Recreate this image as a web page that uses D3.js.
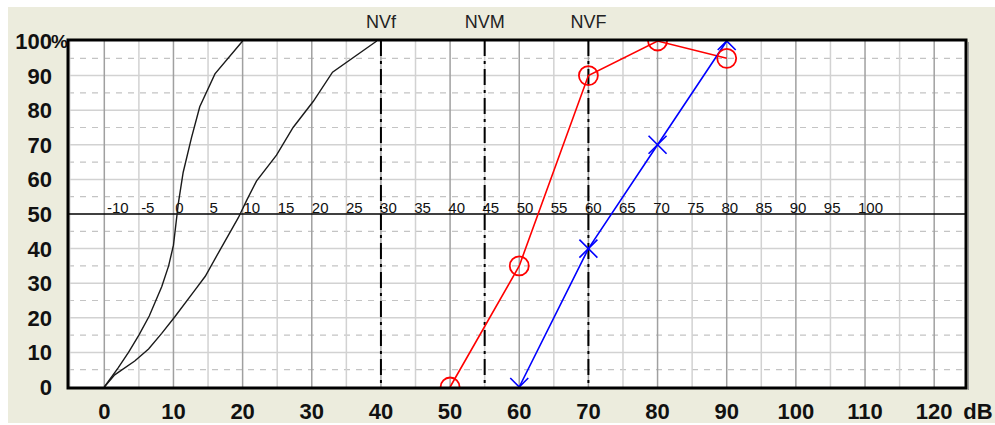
<!DOCTYPE html>
<html lang="en">
<head>
<meta charset="utf-8">
<title>Speech audiogram</title>
<script src="https://cdn.jsdelivr.net/npm/d3@7"></script>
<style>
body { margin:0; background:#fff; font-family:'Liberation Sans', Arial, sans-serif; }
svg { display:block; }
.ylab, .xlab { font-size:22px; font-weight:bold; fill:#111; }
.midlab { font-size:15px; fill:#111; }
.toplab { font-size:18px; fill:#222; }
</style>
</head>
<body>
<svg width="995" height="425"></svg>
<script>

// data
var yTicks = [0,10,20,30,40,50,60,70,80,90,100];
var xTicks = [0,10,20,30,40,50,60,70,80,90,100,110,120];
var midTicks = [-10,-5,0,5,10,15,20,25,30,35,40,45,50,55,60,65,70,75,80,85,90,95,100];
var markerLines = [{db:40, label:"NVf"}, {db:55, label:"NVM"}, {db:70, label:"NVF"}];

// normal curves (numbers / monosyllables)
var normNumbers = [[0,0],[2,5.5],[3.5,10],[5,15],[6.5,20.5],[8.3,29],[9.3,35],[10,41],[10.7,53],[11.4,62],[12.6,72],[13.8,81],[16,90.5],[20,100]];
var normWords = [[0,0],[1.5,3.5],[4.4,7.5],[6.4,11],[8.3,15.5],[10.2,20.3],[13.1,28],[14.6,32],[16.7,39.5],[19.4,49],[20.6,54],[22,59.5],[24.9,67],[27.3,75],[30.2,82.5],[33,91],[39.4,100]];

// measured
var redSeries = [[50,0],[60,35],[70,90],[80,100],[90,95]];
var blueSeries = [[60,0],[70,40],[80,70],[90,100]];

var svg = d3.select("svg");

var x = d3.scaleLinear().domain([-5.25,124.6]).range([68,966]);
var y = d3.scaleLinear().domain([0,100]).range([387,41]);
var xm = d3.scaleLinear().domain([-10,100]).range([107,858]);

var pL = 68, pR = 966, pT = 40, pB = 388;

// beige panel
svg.append("rect").attr("x",8).attr("y",7).attr("width",987).attr("height",416).attr("fill","#ececdd");

svg.append("defs").append("clipPath").attr("id","plotclip")
  .append("rect").attr("x",pL).attr("y",pT).attr("width",pR-pL).attr("height",pB-pT);

svg.append("rect").attr("x",pL).attr("y",pT).attr("width",pR-pL).attr("height",pB-pT).attr("fill","#fff");

var grid = svg.append("g").attr("clip-path","url(#plotclip)");

// horizontal dashed (5s)
grid.selectAll(".hd").data(d3.range(5,100,10)).enter().append("line")
  .attr("x1",pL).attr("x2",pR)
  .attr("y1",d => y(d)).attr("y2",d => y(d))
  .attr("stroke","#c4c4c4").attr("stroke-width",1.2).attr("stroke-dasharray","6,6");

// horizontal solid (10s)
grid.selectAll(".hs").data(yTicks.filter(d => d>0 && d<100 && d!=50)).enter().append("line")
  .attr("x1",pL).attr("x2",pR)
  .attr("y1",d => y(d)).attr("y2",d => y(d))
  .attr("stroke","#d2d2d2").attr("stroke-width",1.5);

// vertical lines every 5 dB
grid.selectAll(".vl").data(d3.range(-5,125,5)).enter().append("line")
  .attr("x1",d => x(d)).attr("x2",d => x(d))
  .attr("y1",pT).attr("y2",pB)
  .attr("stroke",d => d%10==0 ? "#a0a0a0" : "#d2d2d2").attr("stroke-width",1.5);

// 50% line
grid.append("line").attr("x1",pL).attr("x2",pR).attr("y1",y(50)).attr("y2",y(50))
  .attr("stroke","#000").attr("stroke-width",1.5);

// dash-dot marker lines
grid.selectAll(".nv").data(markerLines).enter().append("line")
  .attr("x1",d => x(d.db)).attr("x2",d => x(d.db))
  .attr("y1",pT).attr("y2",pB)
  .attr("stroke","#000").attr("stroke-width",2).attr("stroke-dasharray","16,5,3,5");

// middle scale labels
svg.selectAll(".midlab").data(midTicks).enter().append("text")
  .attr("class","midlab").attr("x",d => xm(d)).attr("y",y(50)-1)
  .text(d => d);

var line = d3.line().x(d => x(d[0])).y(d => y(d[1]));

var plot = svg.append("g").attr("clip-path","url(#plotclip)");

plot.append("path").datum(normNumbers).attr("d",line)
  .attr("fill","none").attr("stroke","#1a1a1a").attr("stroke-width",1.4);
plot.append("path").datum(normWords).attr("d",line)
  .attr("fill","none").attr("stroke","#1a1a1a").attr("stroke-width",1.4);

plot.append("path").datum(redSeries).attr("d",line)
  .attr("fill","none").attr("stroke","#ff0000").attr("stroke-width",1.6);
plot.append("path").datum(blueSeries).attr("d",line)
  .attr("fill","none").attr("stroke","#0000ff").attr("stroke-width",1.6);

plot.selectAll(".circ").data(redSeries).enter().append("circle")
  .attr("cx",d => x(d[0])).attr("cy",d => y(d[1])).attr("r",9.5)
  .attr("fill","none").attr("stroke","#ff0000").attr("stroke-width",1.8);

var s = 9;
plot.selectAll(".cross").data(blueSeries).enter().append("path")
  .attr("d",d => {
    var cx = x(d[0]), cy = y(d[1]);
    return "M"+(cx-s)+","+(cy-s)+"L"+(cx+s)+","+(cy+s)+"M"+(cx-s)+","+(cy+s)+"L"+(cx+s)+","+(cy-s);
  })
  .attr("fill","none").attr("stroke","#0000ff").attr("stroke-width",1.6);

// frame
svg.append("line").attr("x1",pR+2.5).attr("x2",pR+2.5).attr("y1",pT+2).attr("y2",pB+2)
  .attr("stroke","#9a9a9a").attr("stroke-width",1);
svg.append("rect").attr("x",pL).attr("y",pT).attr("width",pR-pL).attr("height",pB-pT)
  .attr("fill","none").attr("stroke","#000").attr("stroke-width",3);

// y labels
svg.selectAll(".ylab").data(yTicks).enter().append("text")
  .attr("class","ylab").attr("x",52).attr("y",d => y(d)).attr("dy","0.36em")
  .attr("text-anchor","end").text(d => d);
svg.append("text").attr("class","ylab").attr("x",51).attr("y",y(100)).attr("dy","0.36em")
  .style("font-size","19px").text("%");

// x labels
svg.selectAll(".xlab").data(xTicks).enter().append("text")
  .attr("class","xlab").attr("x",d => x(d)).attr("y",419)
  .attr("text-anchor","middle").text(d => d);
svg.append("text").attr("class","xlab").attr("x",x(120)+29).attr("y",419).text("dB");

// top labels
svg.selectAll(".toplab").data(markerLines).enter().append("text")
  .attr("class","toplab").attr("x",d => x(d.db)).attr("y",28)
  .attr("text-anchor","middle").text(d => d.label);

</script>
</body>
</html>
